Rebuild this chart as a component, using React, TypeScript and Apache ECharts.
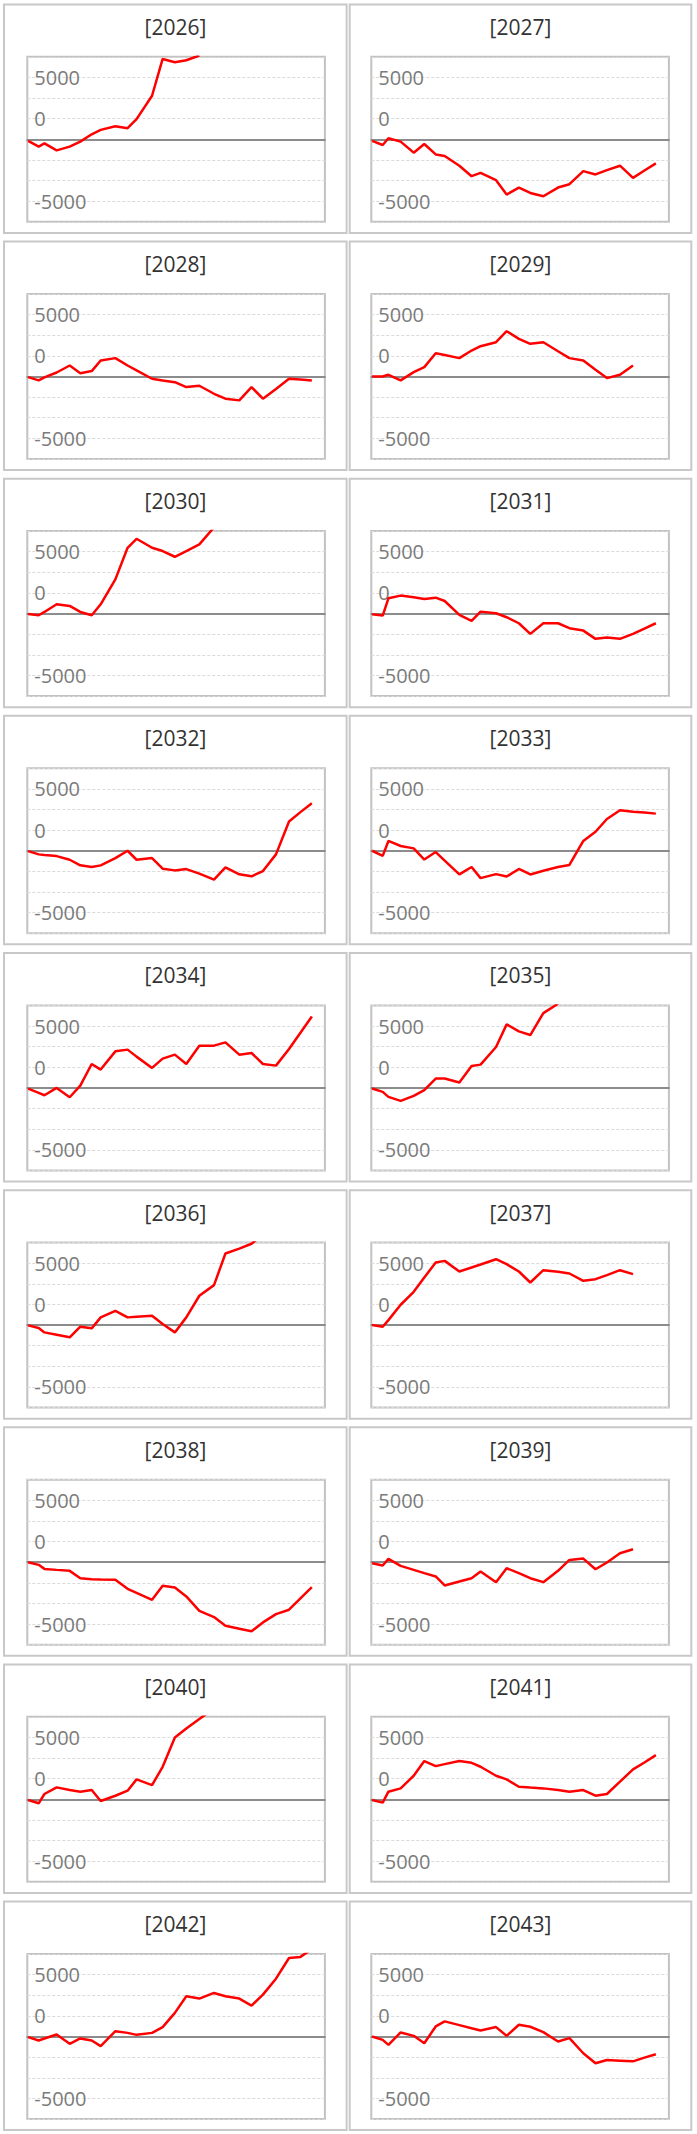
import React, { useEffect, useRef } from "react";
import * as echarts from "echarts";

// ---- data ----
const years = ["2026", "2027", "2028", "2029", "2030", "2031", "2032", "2033", "2034", "2035", "2036", "2037", "2038", "2039", "2040", "2041", "2042", "2043"];

// common x positions (day of year) shared by every panel
const dayOfYear = [1, 14, 21, 36, 52, 65, 79, 90, 108, 123, 134, 153, 166, 181, 195, 211, 229, 243, 260, 275, 289, 305, 321, 335, 349];

const y2026 = [-200, -890, -490, -1340, -890, -280, 610, 1140, 1580, 1340, 2440, 5280, 9740, 9340, 9580, 10150];
const y2027 = [-200, -690, 120, -280, -1620, -570, -1830, -2030, -3200, -4470, -4060, -4950, -6700, -5850, -6500, -6900, -5850, -5440, -3860, -4260, -3740, -3200, -4670, -3780, -2920];
const y2028 = [-80, -480, -120, 480, 1330, 400, 650, 1935, 2220, 1330, 730, -280, -480, -690, -1290, -1130, -2100, -2700, -2900, -1290, -2700, -1530, -280, -360, -480];
const y2029 = [0, 0, 200, -480, 520, 1130, 2820, 2600, 2220, 3145, 3670, 4150, 5480, 4560, 3950, 4150, 3060, 2220, 1935, 800, -200, 200, 1330];
const y2030 = [-40, -200, 200, 1130, 930, 200, -200, 1130, 4150, 7980, 9070, 7980, 7580, 6890, 7580, 8390, 10450];
const y2031 = [-80, -240, 1850, 2180, 1980, 1770, 1935, 1530, -160, -890, 240, 40, -440, -1170, -2460, -1170, -1170, -1770, -2060, -3060, -2900, -3060, -2460, -1810, -1170];
const y2032 = [-40, -440, -520, -650, -1090, -1770, -1980, -1770, -890, 0, -1090, -890, -2180, -2380, -2220, -2780, -3510, -2020, -2860, -3100, -2460, -440, 3550, 4680, 5770];
const y2033 = [0, -615, 1190, 575, 290, -1070, -160, -1190, -2870, -1970, -3320, -2830, -3120, -2210, -2870, -2420, -1970, -1720, 1190, 2300, 3850, 4900, 4720, 4630, 4500];
const y2034 = [-80, -600, -890, 0, -1130, 280, 2900, 2220, 4430, 4640, 3790, 2420, 3550, 4030, 2900, 5120, 5120, 5520, 4030, 4230, 2900, 2700, 4720, 6690, 8660];
const y2035 = [-80, -480, -1090, -1570, -970, -280, 1130, 1130, 650, 2660, 2820, 4960, 7700, 6850, 6410, 9070, 10200];
const y2036 = [-40, -360, -890, -1170, -1490, -200, -400, 930, 1730, 930, 1010, 1130, 120, -890, 930, 3550, 4840, 8670, 9270, 9850, 11000];
const y2037 = [0, -200, 600, 2460, 4030, 5770, 7580, 7780, 6490, 6980, 7340, 7980, 7380, 6490, 5160, 6650, 6450, 6250, 5360, 5560, 6050, 6650, 6170];
const y2038 = [0, -320, -810, -930, -1050, -1940, -2060, -2100, -2140, -3220, -3710, -4560, -2860, -3060, -4150, -5890, -6650, -7700, -8060, -8380, -7300, -6290, -5760, -4390, -3020];
const y2039 = [-120, -400, 400, -440, -930, -1330, -1730, -2820, -2340, -1940, -1130, -2420, -730, -1330, -1940, -2420, -1050, 280, 440, -850, -40, 1090, 1570];
const y2040 = [-80, -480, 650, 1450, 1130, 930, 1130, -200, 440, 1050, 2420, 1730, 3950, 7500, 8590, 9750, 11000];
const y2041 = [-80, -400, 930, 1330, 2860, 4640, 4030, 4270, 4640, 4430, 3950, 2860, 2420, 1530, 1430, 1330, 1130, 930, 1130, 440, 650, 2140, 3630, 4470, 5360];
const y2042 = [-80, -480, -240, 240, -890, -240, -480, -1170, 650, 440, 200, 440, 1130, 2860, 4880, 4600, 5280, 4880, 4600, 3750, 5080, 7010, 9510, 9650, 10600];
const y2043 = [0, -410, -1020, 490, 80, -810, 1220, 1830, 1380, 1000, 730, 1140, 80, 1420, 1180, 530, -610, -200, -2030, -3250, -2850, -2930, -3010, -2560, -2150];

const seriesValues = [y2026, y2027, y2028, y2029, y2030, y2031, y2032, y2033, y2034, y2035, y2036, y2037, y2038, y2039, y2040, y2041, y2042, y2043];

// y axis: tick positions where the reference prints its labels, and the texts printed
const yLabelAt = [7500, 2500, -7500];
const yLabelText = ["5000", "0", "-5000"];

// ---- layout ----
const W = 697;
const H = 2134;
const PLOT_LEFT = [27.3, 371.3];
const PLOT_W = 297.6;
const PLOT_H = 165;
const PLOT_TOP0 = 56.8;
const ROW_PITCH = 237.15;
const BOX_LEFT = [4, 349.7];
const BOX_W = [342.6, 341.6];
const BOX_TOP_OFF = 52.4;
const BOX_H = 228.5;
const TITLE_OFF = 22.4;
const TITLE_X = [175.5, 520.5];
const FONT = '"Open Sans", "Noto Sans", sans-serif';

export default function App() {
  const ref = useRef<HTMLDivElement>(null);

  useEffect(() => {
    if (!ref.current) return;
    const chart = echarts.init(ref.current, undefined, { renderer: "svg", width: W, height: H });

    const grids: any[] = [];
    const xAxes: any[] = [];
    const yAxes: any[] = [];
    const series: any[] = [];
    const graphics: any[] = [];

    years.forEach((yr, i) => {
      const col = i % 2;
      const row = Math.floor(i / 2);
      const plotTop = PLOT_TOP0 + row * ROW_PITCH;
      const boxTop = plotTop - BOX_TOP_OFF;

      grids.push({
        left: PLOT_LEFT[col],
        top: plotTop,
        width: PLOT_W,
        height: PLOT_H,
        show: true,
        borderColor: "#c2c2c2",
        borderWidth: 2,
        backgroundColor: "transparent",
      });
      xAxes.push({
        type: "value",
        gridIndex: i,
        min: 0,
        max: 365,
        axisLine: { show: true, onZero: true, lineStyle: { color: "#8c8c8c", width: 2 } },
        axisTick: { show: false },
        axisLabel: { show: false },
        splitLine: { show: false },
      });
      yAxes.push({
        type: "value",
        gridIndex: i,
        min: -10000,
        max: 10000,
        interval: 2500,
        axisLine: { show: false },
        axisTick: { show: false },
        splitLine: { show: true, lineStyle: { color: "#dadada", width: 1, type: [3, 2] } },
        axisLabel: {
          inside: true,
          margin: 7,
          color: "#7b7b7b",
          fontSize: 20,
          fontFamily: FONT,
          formatter: (v: number) => {
            const k = yLabelAt.indexOf(v);
            return k >= 0 ? yLabelText[k] : "";
          },
        },
      });
      const vals = seriesValues[i];
      series.push({
        type: "line",
        name: yr,
        xAxisIndex: i,
        yAxisIndex: i,
        data: vals.map((v, j) => [dayOfYear[j], v]),
        symbol: "none",
        showSymbol: false,
        clip: true,
        lineStyle: { color: "#ff0000", width: 2.5 },
        z: 5,
      });
      graphics.push({
        type: "rect",
        shape: { x: BOX_LEFT[col], y: boxTop, width: BOX_W[col], height: BOX_H },
        style: { fill: "none", stroke: "#c8c8c8", lineWidth: 2 },
        silent: true,
      });
      graphics.push({
        type: "text",
        x: TITLE_X[col],
        y: boxTop + TITLE_OFF,
        style: {
          text: "[" + yr + "]",
          fill: "#333333",
          font: "21px " + FONT,
          align: "center",
          verticalAlign: "middle",
          textAlign: "center",
          textVerticalAlign: "middle",
        },
        silent: true,
      });
    });

    chart.setOption({
      animation: false,
      backgroundColor: "#ffffff",
      grid: grids,
      xAxis: xAxes,
      yAxis: yAxes,
      series,
      graphic: { elements: graphics },
    });

    return () => {
      chart.dispose();
    };
  }, []);

  return (
    <div
      ref={ref}
      style={{ position: "absolute", left: 0, top: 0, width: W, height: H, background: "#fff" }}
    />
  );
}
